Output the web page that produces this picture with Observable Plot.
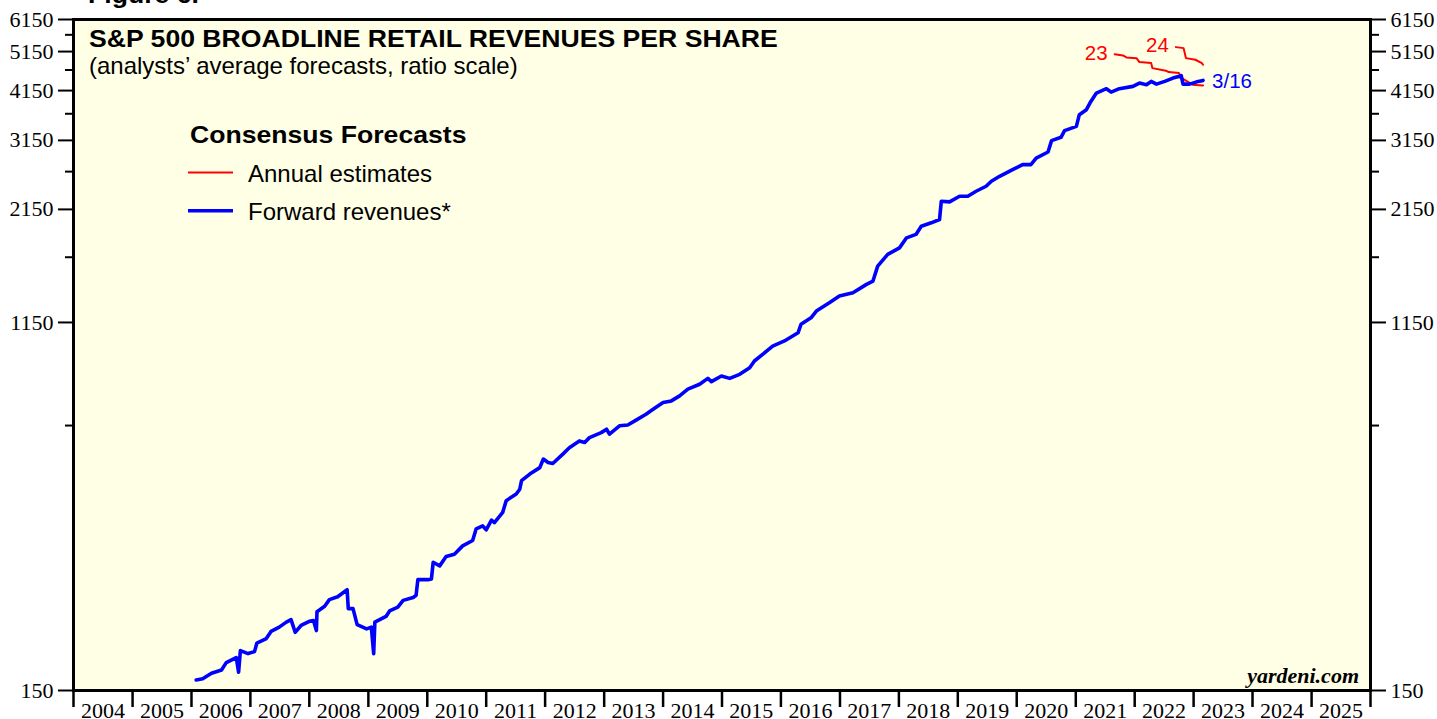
<!DOCTYPE html>
<html>
<head>
<meta charset="utf-8">
<script src="https://cdn.jsdelivr.net/npm/d3@7"></script>
<script src="https://cdn.jsdelivr.net/npm/@observablehq/plot@0.6"></script>
<style>
  html, body { margin: 0; padding: 0; background: #ffffff; overflow: hidden; }
  #chart { position: relative; width: 1437px; height: 719px; }
</style>
</head>
<body>
<div id="chart"></div>
<script>
// ---- Data (decimal years, revenues per share) ----
const forwardYears = [
  2006.08,2006.19,2006.34,2006.51,2006.59,2006.76,2006.80,2006.83,2006.96,2007.07,
  2007.11,2007.27,2007.35,2007.49,2007.61,2007.69,2007.76,2007.86,2008.00,2008.07,
  2008.12,2008.13,2008.26,2008.34,2008.48,2008.64,2008.66,2008.74,2008.81,2008.97,
  2009.05,2009.09,2009.11,2009.30,2009.36,2009.50,2009.59,2009.76,2009.81,2009.84,
  2010.01,2010.07,2010.10,2010.21,2010.32,2010.46,2010.60,2010.77,2010.83,2010.94,
  2011.00,2011.09,2011.14,2011.28,2011.34,2011.51,2011.57,2011.60,2011.74,2011.91,
  2011.97,2012.05,2012.13,2012.30,2012.41,2012.58,2012.67,2012.75,2012.95,2013.04,
  2013.09,2013.26,2013.40,2013.52,2013.71,2013.83,2014.00,2014.14,2014.28,2014.42,
  2014.62,2014.76,2014.82,2014.99,2015.13,2015.30,2015.47,2015.55,2015.69,2015.86,
  2016.06,2016.29,2016.34,2016.51,2016.60,2016.82,2016.99,2017.22,2017.45,2017.56,
  2017.64,2017.81,2018.01,2018.13,2018.29,2018.38,2018.55,2018.69,2018.72,2018.86,
  2019.03,2019.17,2019.31,2019.48,2019.57,2019.71,2019.93,2020.10,2020.24,2020.33,
  2020.53,2020.59,2020.75,2020.81,2021.01,2021.06,2021.18,2021.24,2021.35,2021.52,
  2021.60,2021.74,2021.97,2022.08,2022.20,2022.28,2022.37,2022.51,2022.65,2022.79,
  2022.82,2022.93,2023.04,2023.16
];
const forwardValues = [
  159,160,165,168,175,180,166,187,184,186,
  195,200,208,213,219,222,207,215,220,221,
  209,232,239,248,252,262,236,236,216,211,
  213,184,219,226,233,238,247,251,254,277,
  277,278,305,299,315,319,334,344,367,373,
  365,385,380,402,429,445,457,479,497,515,
  540,530,527,555,575,597,592,608,625,637,
  620,649,652,667,692,711,738,745,766,795,
  817,844,829,855,844,863,895,929,964,1009,
  1038,1086,1138,1180,1225,1282,1331,1355,1420,1446,
  1571,1676,1738,1837,1872,1959,1996,2033,2250,2241,
  2313,2313,2377,2444,2512,2582,2680,2755,2755,2857,
  2954,3146,3204,3325,3405,3632,3734,3872,4093,4193,
  4115,4193,4247,4325,4287,4366,4301,4366,4447,4506,
  4301,4301,4349,4390
];
const est23Years  = [2021.66,2021.80,2021.86,2022.03,2022.08,2022.28,2022.30,2022.53,2022.58,2022.75,2022.80,2022.98,2023.16];
const est23Values = [5077,5041,4986,4966,4858,4831,4699,4632,4597,4571,4447,4287,4271];
const est24Years  = [2022.70,2022.83,2022.87,2023.03,2023.14,2023.16];
const est24Values = [5278,5249,4966,4922,4831,4788];

const yMajorTicks = [150,1150,2150,3150,4150,5150,6150];
const yMinorTicks = [650,1650,2650,3650,4650,5650];
const yearLabels = d3.range(2004, 2026);

// ---- helpers ----
function decToDate(v) {
  const yr = Math.floor(v), f = v - yr;
  const a = Date.UTC(yr, 0, 1), b = Date.UTC(yr + 1, 0, 1);
  return new Date(a + f * (b - a));
}
const toRows = (xs, ys) => xs.map((x, i) => ({date: decToDate(x), value: ys[i]}));
const forward = toRows(forwardYears, forwardValues);
const est23 = toRows(est23Years, est23Values);
const est24 = toRows(est24Years, est24Values);

const yearBounds = d3.range(2004, 2027).map(y => new Date(Date.UTC(y, 0, 1)));
const yearMids = yearLabels.map(y => new Date(Date.UTC(y, 6, 2)));

const BLUE = "#0000ff", RED = "#ff0000", BG = "#ffffe6";
const serif = "'Liberation Serif', 'Times New Roman', serif";
const sans = "'Liberation Sans', Arial, Helvetica, sans-serif";

const chart = Plot.plot({
  width: 1437,
  height: 719,
  marginLeft: 73,
  marginRight: 67,
  marginTop: 19,
  marginBottom: 29,
  style: {fontFamily: serif, fontSize: "22px", background: "#ffffff", overflow: "visible", color: "#000"},
  x: {type: "utc", domain: [yearBounds[0], yearBounds[yearBounds.length - 1]]},
  y: {type: "log", domain: [150, 6150]},
  marks: [
    Plot.frame({fill: BG, stroke: null}),
    Plot.axisY({anchor: "left", ticks: yMajorTicks, tickSize: 15, tickPadding: 5, strokeWidth: 2, tickFormat: d => String(d), label: null, fontSize: 22}),
    Plot.axisY({anchor: "left", ticks: yMinorTicks, tickSize: 8, strokeWidth: 2, tickFormat: () => "", label: null}),
    Plot.axisY({anchor: "right", ticks: yMajorTicks, tickSize: 15, tickPadding: 5, strokeWidth: 2, tickFormat: d => String(d), label: null, fontSize: 22}),
    Plot.axisY({anchor: "right", ticks: yMinorTicks, tickSize: 8, strokeWidth: 2, tickFormat: () => "", label: null}),
    Plot.axisX({ticks: yearBounds, tickSize: 17, strokeWidth: 2.5, tickFormat: () => "", label: null}),
    Plot.axisX({ticks: yearMids, tickSize: 0, tickPadding: 12, tickFormat: d => String(d.getUTCFullYear()), label: null, fontSize: 22}),
    Plot.line(est23, {x: "date", y: "value", stroke: RED, strokeWidth: 2}),
    Plot.line(est24, {x: "date", y: "value", stroke: RED, strokeWidth: 2}),
    Plot.line(forward, {x: "date", y: "value", stroke: BLUE, strokeWidth: 3.6, strokeLinejoin: "round"}),
    Plot.text([est23[0]], {x: "date", y: "value", text: () => "23", dx: -7, dy: -1, textAnchor: "end", fill: RED, fontSize: 20.5, fontFamily: sans}),
    Plot.text([est24[0]], {x: "date", y: "value", text: () => "24", dx: -7, dy: -2, textAnchor: "end", fill: RED, fontSize: 20.5, fontFamily: sans}),
    Plot.text([forward[forward.length - 1]], {x: "date", y: "value", text: () => "3/16", dx: 9, dy: 1, textAnchor: "start", fill: BLUE, fontSize: 20.5, fontFamily: sans}),
    Plot.frame({stroke: "#000", strokeWidth: 3})
  ]
});

document.getElementById("chart").appendChild(chart);

// ---- titles, legend and credit ----
const svg = d3.select(chart);
const g = svg.append("g");
function addText(txt, x, y, opts) {
  return g.append("text")
    .attr("transform", `translate(${x},${y}) scale(${opts.sx || 1},1)`)
    .attr("font-family", opts.family || sans)
    .attr("font-size", opts.size)
    .attr("font-weight", opts.weight || "normal")
    .attr("font-style", opts.style || "normal")
    .attr("text-anchor", opts.anchor || "start")
    .attr("fill", opts.fill || "#000")
    .text(txt);
}
addText("Figure 6.", 88, 3, {size: 23, weight: "bold", sx: 1.157});
addText("S&P 500 BROADLINE RETAIL REVENUES PER SHARE", 89, 47, {size: 23, weight: "bold", sx: 1.157});
addText("(analysts\u2019 average forecasts, ratio scale)", 89, 74, {size: 24});
addText("Consensus Forecasts", 190, 143, {size: 23, weight: "bold", sx: 1.157});
g.append("line").attr("x1", 188).attr("x2", 233).attr("y1", 172.5).attr("y2", 172.5).attr("stroke", RED).attr("stroke-width", 2);
addText("Annual estimates", 248, 181.5, {size: 24});
g.append("line").attr("x1", 188).attr("x2", 233).attr("y1", 210.7).attr("y2", 210.7).attr("stroke", BLUE).attr("stroke-width", 3.6);
addText("Forward revenues*", 248, 220, {size: 24});
addText("yardeni.com", 1359, 683, {size: 22, weight: "bold", style: "italic", family: serif, anchor: "end"});
</script>
</body>
</html>
